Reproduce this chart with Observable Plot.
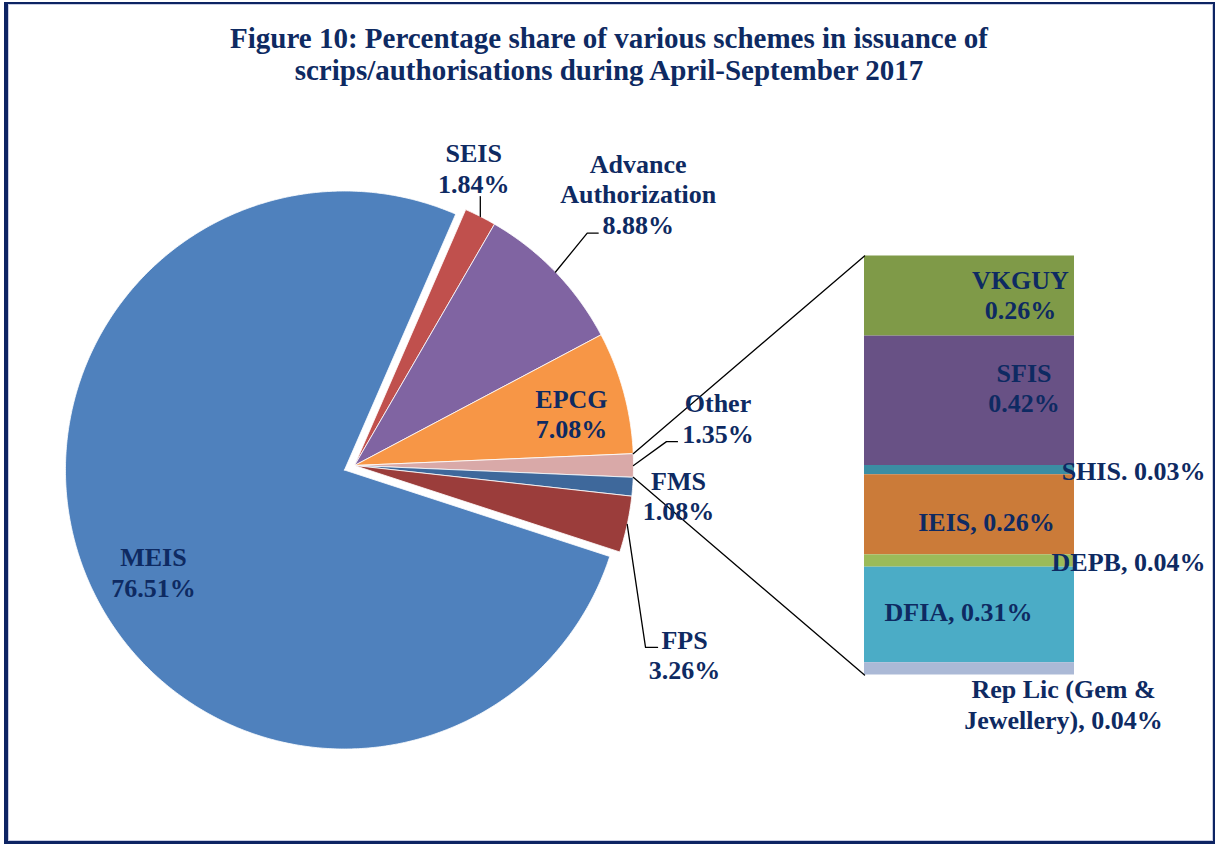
<!DOCTYPE html>
<html>
<head>
<meta charset="utf-8">
<script src="https://cdn.jsdelivr.net/npm/d3@7"></script>
<script src="https://cdn.jsdelivr.net/npm/@observablehq/plot@0.6"></script>
<style>
  html, body { margin: 0; padding: 0; background: #fff; }
  #wrap { position: relative; width: 1215px; height: 844px; overflow: hidden; background: #fff; }
  #title { height: 100px; box-sizing: border-box; padding-top: 23px; padding-left: 3px; text-align: center;
           font: bold 29px "Liberation Serif", "Times New Roman", serif; color: #0e2a62; line-height: 31.7px; }
  #chart svg { display: block; }
  #frame { position: absolute; left: 4px; top: 2px; right: 0; bottom: 0; box-sizing: border-box;
           border-style: solid; border-color: #0d2463; border-width: 2px 2px 3px 4px;
           box-shadow: inset 0 0 0 1px #c8cde2; pointer-events: none; }
</style>
</head>
<body>
<div id="wrap">
  <div id="title">Figure 10: Percentage share of various schemes in issuance of<br>scrips/authorisations during April-September 2017</div>
  <div id="chart"></div>
  <div id="frame"></div>
</div>
<script>
// ---------- DATA ----------
const pieCategories = ["SEIS", "Advance Authorization", "EPCG", "Other", "FMS", "FPS", "MEIS"];
const pieValues     = [1.84, 8.88, 7.08, 1.35, 1.08, 3.26, 76.51];

const barCategories = ["VKGUY", "SFIS", "SHIS", "IEIS", "DEPB", "DFIA", "Rep Lic (Gem & Jewellery)"];
const barValues     = [0.26, 0.42, 0.03, 0.26, 0.04, 0.31, 0.04];

// ---------- STYLES ----------
const pieColors = {
  "SEIS": "#c0504d", "Advance Authorization": "#8064a2", "EPCG": "#f79646", "Other": "#d9a9a8",
  "FMS": "#3e689b", "FPS": "#9b3d3b", "MEIS": "#4f81bd"
};
const barColors = {
  "VKGUY": "#7f9a48", "SFIS": "#685185", "SHIS": "#3b8da3", "IEIS": "#cb7b39",
  "DEPB": "#9bbb59", "DFIA": "#4bacc6", "Rep Lic (Gem & Jewellery)": "#abb9d6"
};
const textColor = "#0e2a62";
const font = "'Liberation Serif', 'Times New Roman', serif";

// label text formats
const pieLabelText = {
  "SEIS": v => `SEIS\n${v}%`,
  "Advance Authorization": v => `Advance\nAuthorization\n${v}%`,
  "EPCG": v => `EPCG\n${v}%`,
  "Other": v => `Other\n${v}%`,
  "FMS": v => `FMS\n${v}%`,
  "FPS": v => `FPS\n${v}%`,
  "MEIS": v => `MEIS\n${v}%`
};
const barLabelText = {
  "VKGUY": v => `VKGUY\n${v}%`,
  "SFIS": v => `SFIS\n${v}%`,
  "SHIS": v => `SHIS. ${v}%`,
  "IEIS": v => `IEIS, ${v}%`,
  "DEPB": v => `DEPB, ${v}%`,
  "DFIA": v => `DFIA, ${v}%`,
  "Rep Lic (Gem & Jewellery)": v => `Rep Lic (Gem &\nJewellery), ${v}%`
};

// ---------- LAYOUT ----------
const W = 1215, H = 744;
const k = 279;              // px per pie radius
const cx = 354, cy = 365;   // pie center (px within svg)
const explodePx = 11;       // MEIS explosion
const barLeftPx = 510, barWidthPx = 210, barHeightPx = 419;

// pie label placement: radius (in radii) and angle offset from slice mid-angle (deg)
const pieLabelLayout = {
  "SEIS": {r: 1.150, da: -5.0},
  "Advance Authorization": {r: 1.409, da: 0.1},
  "EPCG": {r: 0.80, da: 1.6},
  "Other": {r: 1.314, da: -7.5},
  "FMS": {r: 1.166, da: 0.9},
  "FPS": {r: 1.363, da: 17.6},
  "MEIS": {r: 0.815, da: -3.6}
};
// leader: end point offset from label center (px, screen dy), stub length (px)
const leaderLayout = {
  "SEIS": {dx: null, dy: 29, stub: 0},
  "Advance Authorization": {dx: -40, dy: 39.7, stub: 11},
  "Other": {dx: -40.5, dy: 24, stub: 11},
  "FPS": {dx: -27, dy: -7, stub: 12}
};
// bar label offsets from segment center (px, screen dy)
const barLabelLayout = {
  "VKGUY": {dx: 51, dy: -2},
  "SFIS": {dx: 54.5, dy: -13.5},
  "SHIS": {dx: 164, dy: 0.5},
  "IEIS": {dx: 17, dy: 6.5},
  "DEPB": {dx: 159, dy: 0.5},
  "DFIA": {dx: -11, dy: -3.5},
  "Rep Lic (Gem & Jewellery)": {dx: 94, dy: 35}
};

// ---------- GEOMETRY (from data) ----------
const rad = d => d * Math.PI / 180;
const polar = (r, deg, o = {x: 0, y: 0}) => ({x: o.x + r * Math.sin(rad(deg)), y: o.y + r * Math.cos(rad(deg))});

const total = d3.sum(pieValues);
const otherIdx = pieCategories.indexOf("Other");
const before = d3.sum(pieValues.slice(0, otherIdx));
const startAngle = 90 - (before + pieValues[otherIdx] / 2) / total * 360;

let acc = startAngle;
const slices = pieCategories.map((name, i) => {
  const v = pieValues[i];
  const a0 = acc, a1 = acc + v / total * 360;
  acc = a1;
  const mid = (a0 + a1) / 2;
  const off = name === "MEIS" ? polar(explodePx / k, mid) : {x: 0, y: 0};
  const pts = [{...off}];
  for (let t = a0; t < a1; t += 0.5) pts.push(polar(1, t, off));
  pts.push(polar(1, a1, off));
  pts.push({...off});
  return {name, value: v, a0, a1, mid, off, pts};
});

const pieLabelData = slices.map(s => {
  const L = pieLabelLayout[s.name];
  const p = polar(L.r, s.mid + L.da);
  return {name: s.name, x: p.x, y: p.y, text: pieLabelText[s.name](s.value.toFixed(2))};
});

const leaders = [];
for (const s of slices) {
  const L = leaderLayout[s.name];
  if (!L) continue;
  const lab = pieLabelData.find(d => d.name === s.name);
  const arc = polar(1, s.mid, s.off);
  if (L.dx === null) {
    leaders.push([arc, {x: arc.x, y: lab.y - L.dy / k}]);
  } else {
    const end = {x: lab.x + L.dx / k, y: lab.y - L.dy / k};
    const elbow = {x: end.x - L.stub / k, y: end.y};
    leaders.push([arc, elbow, end]);
  }
}

// bar
const barTotal = d3.sum(barValues);
const barX1 = barLeftPx / k, barX2 = (barLeftPx + barWidthPx) / k;
const barTop = barHeightPx / 2 / k;
const perUnit = barHeightPx / k / barTotal;
let cum = 0;
const barSegs = barCategories.map((name, i) => {
  const v = barValues[i];
  const y1 = barTop - cum * perUnit;
  cum += v;
  const y2 = barTop - cum * perUnit;
  return {name, value: v, x1: barX1, x2: barX2, y1, y2};
});
const barBottom = barSegs[barSegs.length - 1].y2;
const barLabelData = barSegs.map(s => {
  const L = barLabelLayout[s.name];
  return {
    x: (s.x1 + s.x2) / 2 + L.dx / k,
    y: (s.y1 + s.y2) / 2 - L.dy / k,
    text: barLabelText[s.name](s.value.toFixed(2))
  };
});

// connectors from "Other" slice to bar
const oth = slices[otherIdx];
const connectors = [
  [polar(1, oth.a0), {x: barX1, y: barTop}],
  [polar(1, oth.a1), {x: barX1, y: barBottom}]
];

// ---------- PLOT ----------
const marks = [];
for (const s of slices) {
  marks.push(Plot.line(s.pts, {x: "x", y: "y", fill: pieColors[s.name], stroke: "white", strokeWidth: 0.8, curve: "linear-closed"}));
}
marks.push(Plot.rect(barSegs, {x1: "x1", x2: "x2", y1: "y1", y2: "y2", fill: d => barColors[d.name]}));
for (const c of connectors) marks.push(Plot.line(c, {x: "x", y: "y", stroke: "black", strokeWidth: 1.3}));
for (const l of leaders) marks.push(Plot.line(l, {x: "x", y: "y", stroke: "black", strokeWidth: 1.3}));
marks.push(Plot.text(pieLabelData, {x: "x", y: "y", text: "text", fill: textColor, fontSize: 26, fontWeight: "bold", fontFamily: font, lineHeight: 1.17}));
marks.push(Plot.text(barLabelData, {x: "x", y: "y", text: "text", fill: textColor, fontSize: 26, fontWeight: "bold", fontFamily: font, lineHeight: 1.17}));

const chart = Plot.plot({
  width: W, height: H, margin: 0,
  style: {fontFamily: font, background: "transparent"},
  x: {domain: [-cx / k, (W - cx) / k], range: [0, W], axis: null},
  y: {domain: [cy / k, -(H - cy) / k], range: [0, H], axis: null},
  marks
});
document.getElementById("chart").appendChild(chart);
</script>
</body>
</html>
